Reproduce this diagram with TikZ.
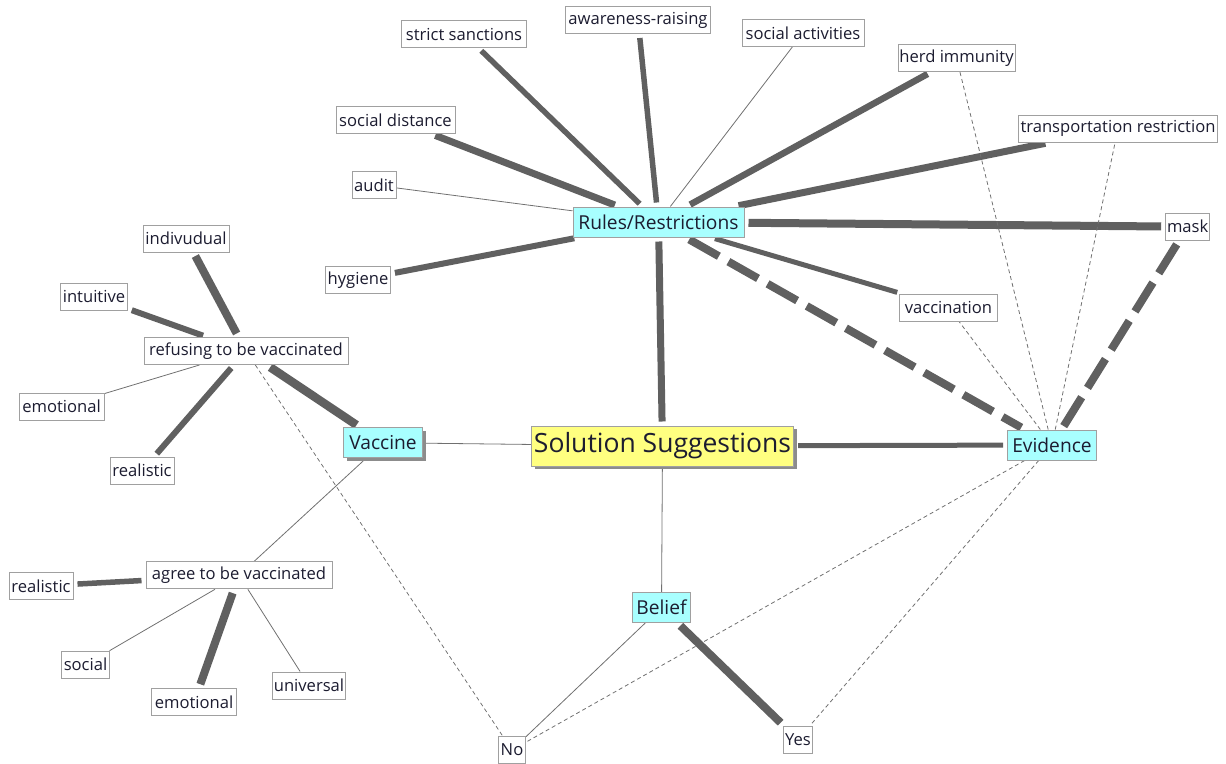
\documentclass[tikz,border=0pt]{standalone}
\usepackage{fontspec}
\setmainfont{Open Sans}
\usetikzlibrary{backgrounds,shadows}
\definecolor{cyanfill}{HTML}{A8FFFF}
\definecolor{yellowfill}{HTML}{FFFF80}
\definecolor{bordergray}{HTML}{A0A0A0}
\definecolor{edgegray}{HTML}{606060}
\definecolor{thingray}{HTML}{707070}
\definecolor{textcol}{HTML}{1C1C30}
\tikzset{
  box/.style={draw=bordergray, line width=1pt, fill=white, inner xsep=0pt, inner ysep=0pt,
    font=\fontsize{16.6}{19}\selectfont, text=textcol, minimum height=27pt},
  cat/.style={box, fill=cyanfill, font=\fontsize{19.2}{22}\selectfont, minimum height=30pt},
  mainbox/.style={box, fill=yellowfill, font=\fontsize{26.5}{30}\selectfont, minimum height=40pt},
  shadowed/.style={drop shadow={shadow xshift=3pt, shadow yshift=-3pt, fill=black!45, opacity=1}},
  wlink/.style={draw=edgegray, line width=#1, shorten <=4pt, shorten >=4pt},
  thinlink/.style={draw=thingray, line width=0.8pt},
  dashlink/.style={draw=thingray, line width=0.8pt, dash pattern=on 4pt off 3pt},
  wdash/.style={draw=edgegray, line width=8pt, dash pattern=on 34pt off 11pt, shorten <=4pt, shorten >=4pt}
}
\begin{document}
\begin{tikzpicture}[x=1pt,y=-1pt]
\useasboundingbox (0,0) rectangle (1226,763);
% nodes
\node[box, minimum width=125pt] (ss) at (464,34) {strict sanctions};
\node[box, minimum width=145pt] (ar) at (638,20) {awareness-raising};
\node[box, minimum width=122pt] (sa) at (803,33) {social activities};
\node[box, minimum width=117pt] (hi) at (956.5,58) {herd immunity};
\node[box, minimum width=199pt] (tr) at (1118,128.5) {transportation restriction};
\node[box, minimum width=119pt] (sd) at (395.5,120) {social distance};
\node[box, minimum width=44pt] (au) at (374,185) {audit};
\node[cat, minimum width=171pt] (rr) at (658.5,222) {Rules/Restrictions};
\node[box, minimum width=65pt] (hy) at (358,280) {hygiene};
\node[box, minimum width=86pt] (iv) at (186,238.5) {indivudual};
\node[box, minimum width=67pt] (it) at (94,296.7) {intuitive};
\node[box, minimum width=204pt] (rf) at (246,351) {refusing to be vaccinated};
\node[box, minimum width=85pt] (em1) at (61.5,406.5) {emotional};
\node[box, minimum width=64pt] (re1) at (142,470.7) {realistic};
\node[cat, minimum width=79pt, shadowed] (va) at (383,442.7) {Vaccine};
\node[mainbox, minimum width=262pt, shadowed] (so) at (662.5,446) {Solution Suggestions};
\node[cat, minimum width=89pt] (ev) at (1052,445) {Evidence};
\node[box, minimum width=44pt] (ma) at (1187.7,226.7) {mask};
\node[box, minimum width=98pt] (vc) at (948.5,307.5) {vaccination};
\node[box, minimum width=186pt] (ag) at (239,575.3) {agree to be vaccinated};
\node[box, minimum width=64pt] (re2) at (41,586) {realistic};
\node[box, minimum width=48pt] (soc) at (85.5,664.7) {social};
\node[box, minimum width=85pt] (em2) at (194,702) {emotional};
\node[box, minimum width=73pt] (un) at (309,685.5) {universal};
\node[cat, minimum width=58pt] (be) at (661.5,607.5) {Belief};
\node[box, minimum width=27pt] (no) at (512,750) {No};
\node[box, minimum width=29pt] (ye) at (798,739.5) {Yes};
% edges
\begin{scope}[on background layer]
\draw[wlink=5.5pt] (rr) -- (ss);
\draw[wlink=5.5pt] (rr) -- (ar);
\draw[thinlink] (rr) -- (sa);
\draw[wlink=6.5pt] (rr) -- (hi);
\draw[wlink=7pt] (rr) -- (tr);
\draw[wlink=7pt] (rr) -- (sd);
\draw[thinlink] (rr) -- (au);
\draw[wlink=6pt] (rr) -- (hy);
\draw[wlink=8pt] (rr) -- (ma);
\draw[wlink=5pt] (rr) -- (vc);
\draw[wdash] (rr) -- (ev);
\draw[wlink=7pt] (rr) -- (so);
\draw[thinlink] (so) -- (va);
\draw[wlink=5pt] (so) -- (ev);
\draw[thinlink] (so) -- (be);
\draw[wdash] (ev) -- (ma);
\draw[dashlink] (ev) -- (vc);
\draw[dashlink] (ev) -- (hi);
\draw[dashlink] (ev) -- (tr);
\draw[dashlink] (ev) -- (no);
\draw[dashlink] (ev) -- (ye);
\draw[wlink=8.5pt] (va) -- (rf);
\draw[thinlink] (va) -- (ag);
\draw[wlink=8pt] (rf) -- (iv);
\draw[wlink=6pt] (rf) -- (it);
\draw[thinlink] (rf) -- (em1);
\draw[wlink=6pt] (rf) -- (re1);
\draw[dashlink] (rf) -- (no);
\draw[wlink=5.5pt] (ag) -- (re2);
\draw[thinlink] (ag) -- (soc);
\draw[wlink=8pt] (ag) -- (em2);
\draw[thinlink] (ag) -- (un);
\draw[thinlink] (be) -- (no);
\draw[wlink=8pt] (be) -- (ye);
\end{scope}
\end{tikzpicture}
\end{document}
